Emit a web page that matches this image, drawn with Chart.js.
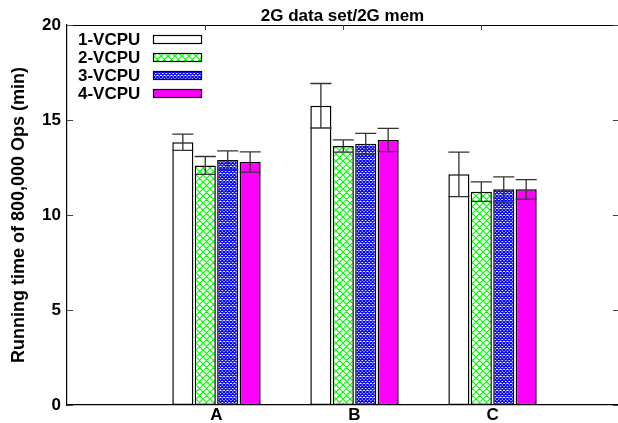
<!DOCTYPE html>
<html>
<head>
<meta charset="utf-8">
<script src="https://cdn.jsdelivr.net/npm/chart.js@4.4.1/dist/chart.umd.min.js"></script>
<style>
html,body{margin:0;padding:0;background:#fff;}
canvas{display:block;}
</style>
</head>
<body>
<canvas id="c" width="618" height="423"></canvas>
<script>
// ---- data ----
const categories = ['A', 'B', 'C'];
const seriesNames = ['1-VCPU', '2-VCPU', '3-VCPU', '4-VCPU'];
const vcpu1 = [13.83, 15.75, 12.14];
const vcpu2 = [12.61, 13.63, 11.23];
const vcpu3 = [12.89, 13.75, 11.35];
const vcpu4 = [12.79, 13.95, 11.35];
const err1 = [0.43, 1.17, 1.17];
const err2 = [0.47, 0.32, 0.51];
const err3 = [0.49, 0.55, 0.66];
const err4 = [0.53, 0.61, 0.51];
const yTicks = [0, 5, 10, 15, 20];
const titleText = '2G data set/2G mem';
const yTitleText = 'Running time of 800,000 Ops (min)';

const FONT = "'Liberation Sans', Arial, Helvetica, sans-serif";
Chart.defaults.font.family = FONT;
Chart.defaults.color = '#000';

const canvas = document.getElementById('c');
const ctx = canvas.getContext('2d');

function hatch(size, spacing, color, lw, bg) {
  const t = document.createElement('canvas');
  t.width = size; t.height = size;
  const g = t.getContext('2d');
  g.fillStyle = bg; g.fillRect(0, 0, size, size);
  g.strokeStyle = color; g.lineWidth = lw;
  g.beginPath();
  for (let k = -2 * size; k <= 2 * size; k += spacing) {
    g.moveTo(k, 0); g.lineTo(k + size, size);
    g.moveTo(k, size); g.lineTo(k + size, 0);
  }
  g.stroke();
  return ctx.createPattern(t, 'repeat');
}
const greenPat = hatch(7, 7, '#00ff00', 1.2, '#ffffff');
const bluePat = hatch(7, 3.5, '#0000ff', 1.25, '#ffffff');

const toXY = arr => arr.map((v, i) => ({ x: i, y: v }));

const errorBars = {
  id: 'errorBars',
  afterDatasetsDraw(chart) {
    const c = chart.ctx, ys = chart.scales.y;
    c.save();
    c.strokeStyle = '#333';
    c.lineWidth = 1.3;
    chart.data.datasets.forEach((ds, di) => {
      const meta = chart.getDatasetMeta(di);
      meta.data.forEach((bar, i) => {
        const v = ds.data[i].y, e = ds.errors[i];
        const yHi = ys.getPixelForValue(v + e), yLo = ys.getPixelForValue(v - e);
        const half = bar.width / 2;
        c.beginPath();
        c.moveTo(bar.x, yHi); c.lineTo(bar.x, yLo);
        c.moveTo(bar.x - half, yHi); c.lineTo(bar.x + half, yHi);
        c.moveTo(bar.x - half, yLo); c.lineTo(bar.x + half, yLo);
        c.stroke();
      });
    });
    c.restore();
  }
};

const TOP_TICK_SHIFT = -0.083;
const frame = {
  id: 'frame',
  beforeDatasetsDraw(chart) {
    const c = chart.ctx, a = chart.chartArea, xs = chart.scales.x;
    c.save();
    c.strokeStyle = '#000'; c.lineWidth = 1;
    c.beginPath();
    categories.forEach((_, i) => {
      const px = Math.round(xs.getPixelForValue(i + TOP_TICK_SHIFT)) + 0.5;
      c.moveTo(px, a.bottom); c.lineTo(px, a.bottom - 5);
    });
    c.stroke();
    c.restore();
  },
  afterDraw(chart) {
    const c = chart.ctx, a = chart.chartArea, xs = chart.scales.x, ys = chart.scales.y;
    c.save();
    c.strokeStyle = '#000';
    c.lineWidth = 1.2;
    c.beginPath();
    c.moveTo(a.left, a.top + 0.5); c.lineTo(a.right, a.top + 0.5);
    c.stroke();
    c.lineWidth = 1;
    c.strokeStyle = '#444';
    c.beginPath();
    yTicks.forEach(v => {
      const py = Math.round(ys.getPixelForValue(v)) + 0.5;
      c.moveTo(a.left, py); c.lineTo(a.left + 6, py);
      c.moveTo(a.right, py); c.lineTo(a.right - 5, py);
    });
    categories.forEach((_, i) => {
      const px = Math.round(xs.getPixelForValue(i + TOP_TICK_SHIFT)) + 0.5;
      c.moveTo(px, a.top); c.lineTo(px, a.top + 5);
    });
    c.stroke();

    // title
    c.fillStyle = '#000';
    c.font = 'bold 17px ' + FONT;
    c.textAlign = 'center';
    c.textBaseline = 'alphabetic';
    c.fillText(titleText, (a.left + a.right) / 2, 21);

    // key
    c.textAlign = 'left';
    chart.data.datasets.forEach((ds, i) => {
      const base = 45 + i * 18;
      c.fillStyle = '#000';
      c.fillText(ds.label, 78, base);
      c.fillStyle = ds.backgroundColor;
      c.fillRect(153, base - 10, 49, 9);
      c.strokeStyle = '#000';
      c.lineWidth = 1.2;
      c.strokeRect(153.5, base - 9.5, 48, 8);
    });
    c.restore();
  }
};

new Chart(ctx, {
  type: 'bar',
  data: {
    datasets: [
      { label: seriesNames[0], data: toXY(vcpu1), errors: err1, backgroundColor: '#ffffff' },
      { label: seriesNames[1], data: toXY(vcpu2), errors: err2, backgroundColor: greenPat },
      { label: seriesNames[2], data: toXY(vcpu3), errors: err3, backgroundColor: bluePat },
      { label: seriesNames[3], data: toXY(vcpu4), errors: err4, backgroundColor: '#ff00ff' }
    ]
  },
  options: {
    responsive: false,
    animation: false,
    devicePixelRatio: 1,
    datasets: {
      bar: {
        categoryPercentage: 0.65,
        barPercentage: 0.94,
        borderColor: '#000',
        borderWidth: 1.5,
        borderSkipped: false
      }
    },
    layout: { padding: { left: 0, right: 0, top: 25, bottom: 0 } },
    plugins: {
      legend: { display: false },
      title: { display: false },
      tooltip: { enabled: false }
    },
    scales: {
      x: {
        type: 'linear',
        min: -1.083,
        max: 2.909,
        offset: false,
        grid: { display: false, drawTicks: false },
        border: { display: true, color: '#000', width: 1.2 },
        afterBuildTicks: s => { s.ticks = categories.map((_, i) => ({ value: i })); },
        afterFit: s => { s.height = 18; },
        ticks: {
          color: '#000',
          font: { size: 17, weight: 'bold' },
          padding: 0,
          autoSkip: false,
          maxRotation: 0,
          callback: v => categories[v] ?? ''
        }
      },
      y: {
        min: 0,
        max: 20,
        grid: { display: false, drawTicks: false },
        border: { display: true, color: '#000', width: 1.2 },
        afterBuildTicks: s => { s.ticks = yTicks.map(v => ({ value: v })); },
        afterFit: s => { s.width = 67; },
        ticks: {
          color: '#000',
          font: { size: 17, weight: 'bold' },
          padding: 6
        },
        title: {
          display: true,
          text: yTitleText,
          color: '#000',
          font: { size: 18, weight: 'bold' },
          padding: { top: 8, bottom: 0 }
        }
      }
    }
  },
  plugins: [frame, errorBars]
});
</script>
</body>
</html>
